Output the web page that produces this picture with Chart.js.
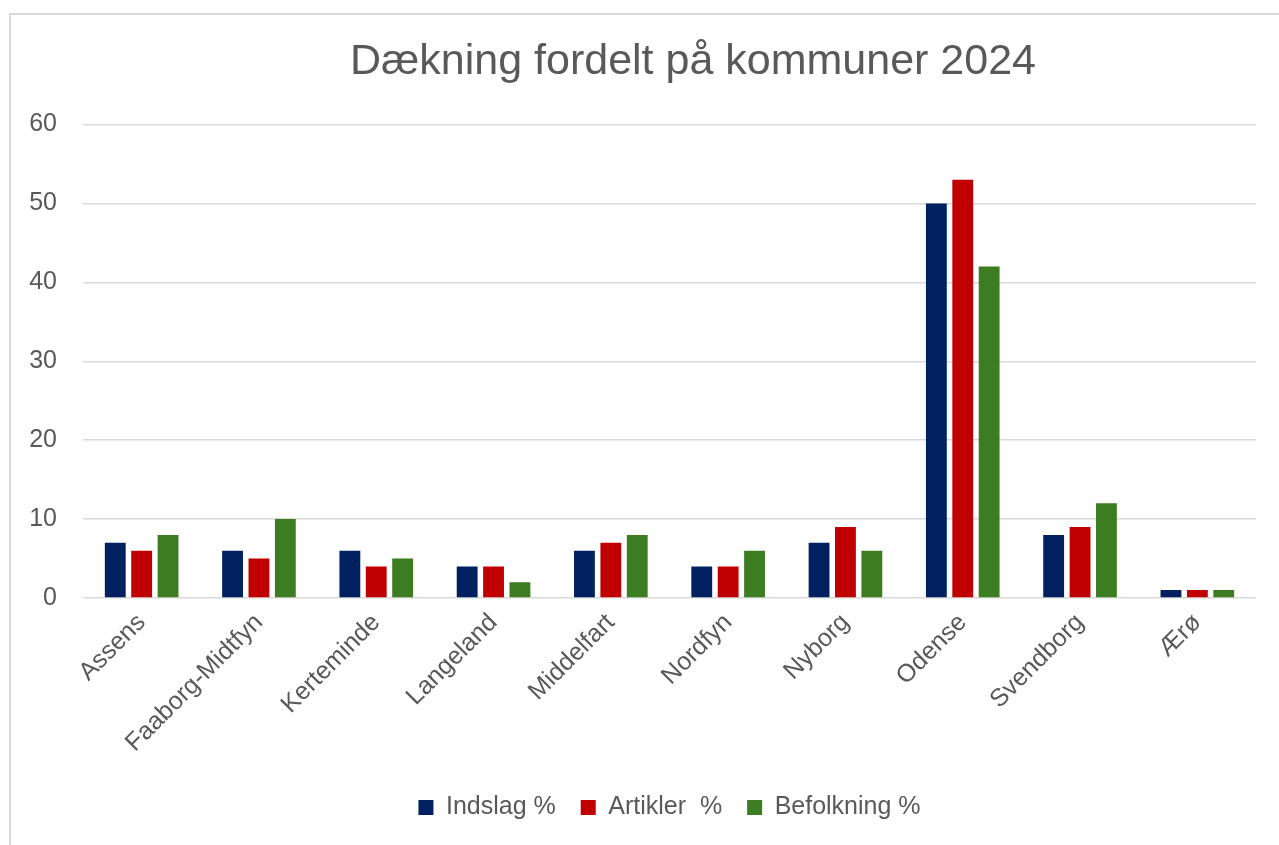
<!DOCTYPE html>
<html>
<head>
<meta charset="utf-8">
<script src="https://cdn.jsdelivr.net/npm/chart.js@4"></script>
<style>
  html, body { margin: 0; padding: 0; background: #fff; overflow: hidden; }
  #wrap { position: relative; width: 1279px; height: 845px; overflow: hidden; }
  #frame { position: absolute; left: 9px; top: 13px; width: 1400px; height: 900px; border: 2px solid #d9d9d9; box-sizing: border-box; }
  #kommuneChart { position: absolute; left: 0; top: 0; }
</style>
</head>
<body>
<div id="wrap">
  <div id="frame"></div>
  <canvas id="kommuneChart" width="1400" height="845"></canvas>
</div>
<script>
var kommuner = ['Assens', 'Faaborg-Midtfyn', 'Kerteminde', 'Langeland', 'Middelfart', 'Nordfyn', 'Nyborg', 'Odense', 'Svendborg', 'Ærø'];
var indslag = [7, 6, 6, 4, 6, 4, 7, 50, 8, 1];
var artikler = [6, 5, 4, 4, 7, 4, 9, 53, 9, 1];
var befolkning = [8, 10, 5, 2, 8, 6, 6, 42, 12, 1];
var yTicks = [0, 10, 20, 30, 40, 50, 60];

var textColor = '#595959';
var fontFamily = '"Liberation Sans", Arial, Helvetica, sans-serif';

var ctx = document.getElementById('kommuneChart').getContext('2d');
var kommuneChart = new Chart(ctx, {
    type: 'bar',
    data: {
    labels: kommuner,
    datasets: [{
        label: 'Indslag %',
        data: indslag,
        backgroundColor: '#002060'
    }, {
        label: 'Artikler  %',
        data: artikler,
        backgroundColor: '#c00000'
    }, {
        label: 'Befolkning %',
        data: befolkning,
        backgroundColor: '#3c7d22'
    }]
    },
    options: {
    responsive: false,
    animation: false,
    devicePixelRatio: 1,
    categoryPercentage: 0.675,
    barPercentage: 0.79,
    layout: {
        padding: { left: 20, right: 34, top: 20, bottom: 15 }
    },
    scales: {
        x: {
        grid: { display: false, drawTicks: false },
        border: { display: false },
        ticks: {
            color: textColor,
            font: { family: fontFamily, size: 25 },
            minRotation: 45,
            maxRotation: 45,
            padding: 10
        },
        afterFit: function(scale) { scale.height = 172; }
        },
        y: {
        min: yTicks[0],
        max: yTicks[yTicks.length - 1],
        grid: { color: '#d9d9d9', lineWidth: 1.5, drawTicks: false },
        border: { display: false },
        ticks: {
            stepSize: yTicks[1] - yTicks[0],
            color: textColor,
            font: { family: fontFamily, size: 25 },
            padding: 26
        },
        afterFit: function(scale) { scale.width = 63; }
        },
        // empty axis on the right, only used to shift the plot so the title sits where it should
        y2: {
        position: 'right',
        grid: { display: false, drawTicks: false },
        border: { display: false },
        ticks: { display: false },
        afterFit: function(scale) { scale.width = 110; }
        }
    },
    plugins: {
        legend: {
        display: true,
        position: 'bottom',
        fullSize: false,
        labels: {
            color: textColor,
            font: { family: fontFamily, size: 25 },
            boxWidth: 15,
            boxHeight: 15,
            padding: 25
        }
        },
        title: {
        display: true,
        text: 'Dækning fordelt på kommuner 2024',
        color: textColor,
        font: { family: fontFamily, size: 43, weight: 'normal' },
        padding: { top: 16, bottom: 37 }
        },
        tooltip: { enabled: false }
    }
    }
});
</script>
</body>
</html>
